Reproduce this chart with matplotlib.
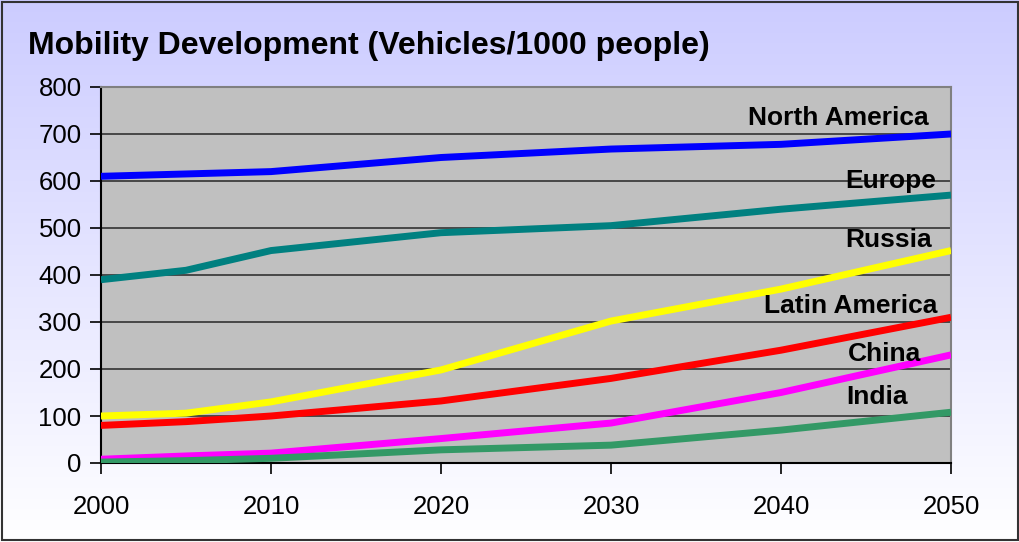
import numpy as np
import matplotlib
matplotlib.use('Agg')
import matplotlib.pyplot as plt
from matplotlib.patches import Rectangle

plt.rcParams['font.family'] = ['Liberation Sans', 'DejaVu Sans']

years = [2000, 2005, 2010, 2020, 2030, 2040, 2050]
north_america = [610, 615, 620, 650, 668, 678, 700]
europe = [390, 410, 452, 490, 505, 540, 570]
russia = [100, 106, 130, 198, 302, 370, 452]
latin_america = [80, 88, 100, 132, 180, 240, 310]
china = [8, 15, 21, 52, 85, 150, 230]
india = [2, 5, 10, 28, 38, 70, 108]

series = [
  ('North America', north_america, '#0000ff'),
  ('Europe', europe, '#008080'),
  ('Russia', russia, '#ffff00'),
  ('Latin America', latin_america, '#ff0000'),
  ('China', china, '#ff00ff'),
  ('India', india, '#339966'),
]

# label positions (data coords, centre x / baseline y)
label_pos = {
  'North America': (2043.35, 719),
  'Europe': (2046.45, 585),
  'Russia': (2046.3, 460),
  'Latin America': (2044.1, 319),
  'China': (2046.1, 217),
  'India': (2045.65, 125),
}

fig = plt.figure(figsize=(10.2, 5.42), dpi=100)

# gradient background
bg = fig.add_axes([0, 0, 1, 1], zorder=-10)
grad = np.linspace(0, 1, 256).reshape(-1, 1)
top = np.array([204, 204, 255]) / 255
bottom = np.array([255, 255, 255]) / 255
img = top + (bottom - top) * grad[:, :, None]
bg.imshow(img, aspect='auto', extent=[0, 1, 0, 1])
bg.add_patch(Rectangle((0.002, 0.004), 0.996, 0.992, fill=False,
                       edgecolor='#333333', linewidth=1.5))
bg.set_xlim(0, 1)
bg.set_ylim(0, 1)
bg.axis('off')

ax = fig.add_axes([101 / 1020, 1 - 463 / 542, 850 / 1020, 376 / 542])
ax.set_facecolor('#c0c0c0')

for name, vals, color in series:
  ax.plot(years, vals, color=color, linewidth=5, solid_capstyle='butt', zorder=3)
  x, y = label_pos[name]
  ax.text(x, y, name, ha='center', va='baseline', fontsize=19,
          fontweight='bold', color='black', zorder=4)

ax.set_xlim(2000, 2050)
ax.set_ylim(0, 800)
ax.set_xticks([2000, 2010, 2020, 2030, 2040, 2050])
ax.set_yticks(range(0, 801, 100))
ax.grid(axis='y', color='#333333', linewidth=1.2, zorder=1)
ax.set_axisbelow(True)
ax.tick_params(axis='both', labelsize=18.5, length=8, width=1.2, direction='out',
               color='black')
ax.tick_params(axis='x', pad=15)
ax.tick_params(axis='y', pad=6)

for side in ['left', 'bottom']:
  ax.spines[side].set_color('black')
  ax.spines[side].set_linewidth(1.5)
for side in ['top', 'right']:
  ax.spines[side].set_color('#808080')
  ax.spines[side].set_linewidth(1.5)

fig.text(28 / 1020, 1 - 46 / 542, 'Mobility Development (Vehicles/1000 people)',
         fontsize=23, fontweight='bold', ha='left', va='center')

fig.savefig('out.png', dpi=100)
